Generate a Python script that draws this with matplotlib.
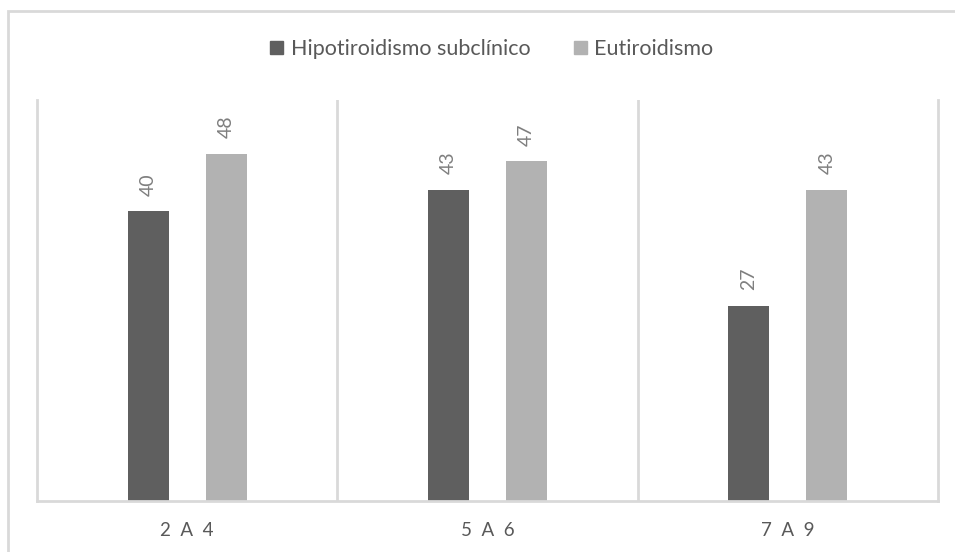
import matplotlib.pyplot as plt
from matplotlib.patches import Patch, Rectangle
import numpy as np

plt.rcParams['font.family'] = ['Lato', 'DejaVu Sans']

# grupos de edad y porcentajes
grupos = ['2  A  4', '5  A  6', '7  A  9']
hipotiroidismo = [40, 43, 27]
eutiroidismo = [48, 47, 43]

color_hipo = '#5f5f5f'
color_eu = '#b2b2b2'
gris_linea = '#d9d9d9'
gris_texto = '#595959'

fig = plt.figure(figsize=(9.55, 5.52), dpi=100)
W, H = 955, 552
ax = fig.add_axes([37 / W, (H - 501) / H, (938 - 37) / W, (501 - 100) / H])

x = np.arange(len(grupos))
ancho = 0.136
desp = 0.13
b1 = ax.bar(x - desp, hipotiroidismo, ancho, color=color_hipo)
b2 = ax.bar(x + desp, eutiroidismo, ancho, color=color_eu)

# etiquetas de valor verticales sobre cada barra
for barras in (b1, b2):
    for r in barras:
        ax.annotate('%d' % r.get_height(),
                    (r.get_x() + r.get_width() / 2, r.get_height()),
                    xytext=(0, 11), textcoords='offset points',
                    ha='center', va='bottom', rotation=90,
                    fontsize=14, color='#7f7f7f')

ax.set_xlim(-0.5, len(grupos) - 0.5)
ax.set_ylim(0, 55.4)
ax.set_yticks([])
ax.set_xticks(x)
ax.set_xticklabels(grupos, fontsize=13.5, color=gris_texto)
ax.tick_params(axis='x', length=0, pad=15)

# separadores entre categorias
ax.set_xticks(x[:-1] + 0.5, minor=True)
ax.tick_params(axis='x', which='minor', length=0)
ax.grid(axis='x', which='minor', color=gris_linea, linewidth=2)
ax.set_axisbelow(True)

for lado in ('left', 'right', 'bottom'):
    ax.spines[lado].set_color(gris_linea)
    ax.spines[lado].set_linewidth(2)
ax.spines['top'].set_visible(False)

# marco exterior del grafico
fig.patches.append(Rectangle((8 / W, -0.1), 1.2, 1.1 - 11 / H,
                             transform=fig.transFigure, fill=False,
                             edgecolor=gris_linea, linewidth=2))

handles = [Patch(color=color_hipo, label='Hipotiroidismo subclínico'),
           Patch(color=color_eu, label='Eutiroidismo')]
fig.legend(handles=handles, loc='center', bbox_to_anchor=(0.515, 0.911),
           ncol=2, frameon=False, fontsize=15.5, labelcolor=gris_texto,
           handlelength=0.6, handleheight=0.6, handletextpad=0.35,
           columnspacing=2.0)

fig.savefig('out.png', dpi=100)
